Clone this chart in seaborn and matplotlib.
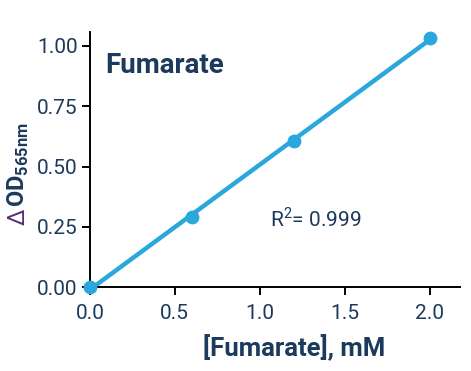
import numpy as np
import pandas as pd
import matplotlib
matplotlib.use("Agg")
import matplotlib.pyplot as plt
import seaborn as sns

# ---------------- DATA ----------------
conc_mm = [0.0, 0.6, 1.2, 2.0]
delta_od = [0.0, 0.29, 0.605, 1.032]
x_ticks = [0.0, 0.5, 1.0, 1.5, 2.0]
y_ticks = [0.00, 0.25, 0.50, 0.75, 1.00]

NAVY = "#1b3a5c"
BLUE = "#2aa7dc"
PURPLE = "#5c2d72"

sns.set_theme(style="ticks")
plt.rcParams["font.family"] = ["Roboto", "DejaVu Sans"]
plt.rcParams["mathtext.fontset"] = "custom"
plt.rcParams["mathtext.rm"] = "Roboto"
plt.rcParams["mathtext.bf"] = "Roboto:bold"

df = pd.DataFrame({"conc": conc_mm, "od": delta_od})

fig = plt.figure(figsize=(4.71, 3.71), dpi=100)
ax = fig.add_axes([0.191, 0.226, 0.786, 0.688])

sns.regplot(data=df, x="conc", y="od", ax=ax, ci=None, truncate=True,
            color=BLUE, line_kws={"lw": 3.2, "solid_capstyle": "round"},
            scatter_kws={"s": 80, "clip_on": False, "zorder": 5, "alpha": 1})

ax.set_xlim(0, 2.18)
ax.set_ylim(0, 1.058)
ax.set_xticks(x_ticks)
ax.set_yticks(y_ticks)
ax.set_xticklabels([f"{v:.1f}" for v in x_ticks])
ax.set_yticklabels([f"{v:.2f}" for v in y_ticks])
ax.tick_params(axis="both", labelsize=15, colors="black",
               length=6, width=1.4, pad=3)
ax.tick_params(axis="x", pad=6)
ax.tick_params(axis="both", labelcolor=NAVY)
sns.despine(ax=ax)
for s in ["left", "bottom"]:
    ax.spines[s].set_linewidth(1.4)
    ax.spines[s].set_color("black")

ax.set_xlabel("[Fumarate], mM", fontsize=18.5, fontweight="bold", color=NAVY)
ax.xaxis.set_label_coords(0.551, -0.185)
ax.set_ylabel("")

# y label: purple delta + bold OD with subscript
bx, by = 0.052, 0.442
fig.text(bx, by, r"$\mathbf{OD}_{\mathbf{565nm}}$", rotation=90, rotation_mode="anchor",
         color=NAVY, fontsize=17, ha="left", va="baseline")
fig.text(bx, by - 0.004, "\u0394", rotation=90, rotation_mode="anchor", color=PURPLE,
         fontsize=17, ha="right", va="baseline")

ax.text(0.04, 0.867, "Fumarate", transform=ax.transAxes, fontsize=20,
        fontweight="bold", color=NAVY, va="center", ha="left")
ax.text(1.06, 0.286, r"R$^2$= 0.999", fontsize=15, color=NAVY, ha="left", va="center")

fig.savefig("out.png", dpi=100)
